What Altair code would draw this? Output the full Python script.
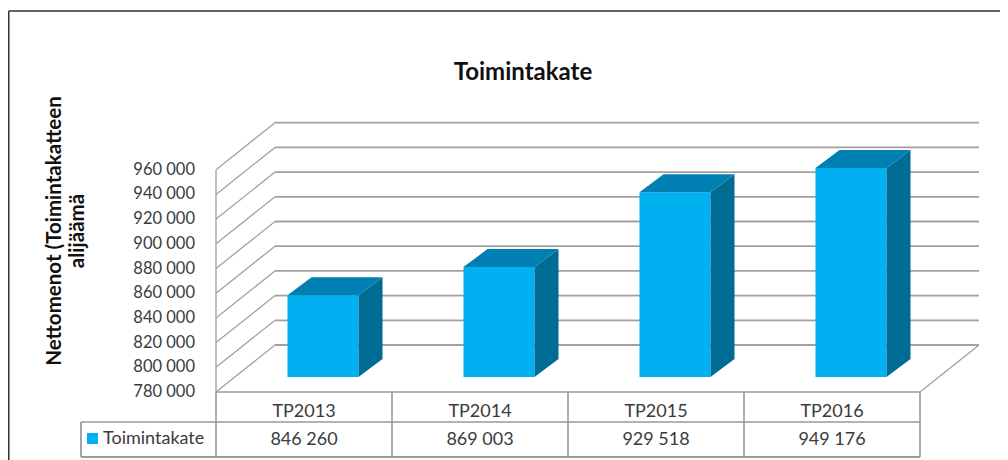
import altair as alt
import pandas as pd

# ---------------- data ----------------
categories = ["TP2013", "TP2014", "TP2015", "TP2016"]
values = [846260, 869003, 929518, 949176]
value_labels = ["846 260", "869 003", "929 518", "949 176"]
tick_values = [780000, 800000, 820000, 840000, 860000, 880000, 900000, 920000, 940000, 960000]
tick_labels = ["780 000", "800 000", "820 000", "840 000", "860 000",
               "880 000", "900 000", "920 000", "940 000", "960 000"]
series_name = "Toimintakate"
chart_title = "Toimintakate"
y_title_lines = ["Nettomenot (Toimintakatteen", "alijäämä"]

# ---------------- layout / style ----------------
W, H = 992, 360
PAD_TOP = 92
PX_PER_CAT = 176.0
X0_PX = 208.0            # plot-x of the category origin
Y0_PX = 292.0            # plot-y of the value-axis floor
PX_PER_VAL = 24.7 / 20000.0
BASE = tick_values[0]

def ux(px):
    return px / PX_PER_CAT

def uy(px):
    return px / PX_PER_VAL

x_scale = alt.Scale(domain=[-X0_PX / PX_PER_CAT, (W - X0_PX) / PX_PER_CAT], nice=False, zero=False)
y_scale = alt.Scale(domain=[BASE - (H - Y0_PX) / PX_PER_VAL, BASE + Y0_PX / PX_PER_VAL], nice=False, zero=False)

DX, DY = ux(59), uy(47)          # depth of the 3D box
BX, BY = ux(19), uy(15)          # bar front-face offset into depth
BW = ux(71)                      # bar width
DDX, DDY = ux(24), uy(18)        # bar depth

FRONT = "#00B0F0"
TOP = "#0080B2"
SIDE = "#006C94"
GRID = "#a0a0a0"
TXT = "#3b3b3b"
FONT = "Lato"

def X(f):
    return alt.X(f, type="quantitative", scale=x_scale, axis=None)

def Y(f):
    return alt.Y(f, type="quantitative", scale=y_scale, axis=None)

n = len(categories)
ticks = pd.DataFrame({"v": tick_values, "label": tick_labels})
ticks["yb"] = ticks["v"] + DY
ticks["xb"] = DX
ticks["xe"] = n + DX
ticks["x0"] = 0.0

bars = pd.DataFrame({"cat": categories, "value": values, "label": value_labels})
bars["i"] = range(n)
bars["xc"] = bars["i"] + 0.5
bars["xl"] = bars["xc"] + BX - BW / 2
bars["xr"] = bars["xl"] + BW
bars["yb"] = BASE + BY
bars["yt"] = bars["value"] + BY

side_rows, top_rows = [], []
for r in bars.to_dict("records"):
    side_rows.append({"cat": r["cat"], "x": r["xr"], "yt": r["yt"], "yb": r["yb"]})
    side_rows.append({"cat": r["cat"], "x": r["xr"] + DDX, "yt": r["yt"] + DDY, "yb": r["yb"] + DDY})
    top_rows.append({"cat": r["cat"], "y": r["yt"], "xa": r["xl"], "xb": r["xr"]})
    top_rows.append({"cat": r["cat"], "y": r["yt"] + DDY, "xa": r["xl"] + DDX, "xb": r["xr"] + DDX})
side = pd.DataFrame(side_rows)
top = pd.DataFrame(top_rows)

walls = pd.DataFrame({"x": [0.0], "y": [BASE], "y2": [tick_values[-1]],
                      "xr": [float(n)], "xr2": [n + DX], "yr2": [BASE + DY]})
bounds = pd.DataFrame({"b": list(range(n + 1))})
one = pd.DataFrame({"a": [0]})

# ---------------- layers ----------------
frame_top = alt.Chart(one).mark_rule(color="#333333", strokeWidth=1.5).encode(
    x=alt.value(0.75), x2=alt.value(W), y=alt.value(-89))
frame_left = alt.Chart(one).mark_rule(color="#333333", strokeWidth=1.5).encode(
    x=alt.value(0.75), y=alt.value(-89), y2=alt.value(H))

title_txt = alt.Chart(one).mark_text(align="center", baseline="middle", font=FONT,
                                     fontSize=24, fontWeight="bold", color="#111111",
                                     text=chart_title).encode(
    x=alt.value(515), y=alt.value(-27))

back_grid = alt.Chart(ticks).mark_rule(color=GRID, strokeWidth=1.8).encode(
    x=X("xb"), x2="xe", y=Y("yb"))
diag = alt.Chart(ticks).mark_rule(color=GRID, strokeWidth=1.3).encode(
    x=X("x0"), x2="xb", y=Y("v"), y2="yb")
front_left = alt.Chart(walls).mark_rule(color=GRID, strokeWidth=1.3).encode(
    x=X("x"), y=Y("y"), y2="y2")
floor_right = alt.Chart(walls).mark_rule(color=GRID, strokeWidth=1.3).encode(
    x=X("xr"), x2="xr2", y=Y("y"), y2="yr2")

bar_front = alt.Chart(bars).mark_rect(color=FRONT).encode(
    x=X("xl"), x2="xr", y=Y("yb"), y2="yt")
bar_side = alt.Chart(side).mark_area(color=SIDE, orient="vertical").encode(
    x=X("x"), y=Y("yt"), y2="yb", detail="cat:N")
bar_top = alt.Chart(top).mark_area(color=TOP, orient="horizontal").encode(
    y=Y("y"), x=X("xa"), x2="xb", detail="cat:N")

tick_text = alt.Chart(ticks).mark_text(align="right", baseline="middle", dx=-21,
                                       font=FONT, fontSize=16.5, color=TXT).encode(
    x=X("x0"), y=Y("v"), text="label:N")

ytitle1 = alt.Chart(one).mark_text(angle=270, align="center", baseline="middle",
                                   font=FONT, fontSize=20.5, fontWeight="bold",
                                   color="#111111", text=y_title_lines[0]).encode(
    x=alt.value(47), y=alt.value(131))
ytitle2 = alt.Chart(one).mark_text(angle=270, align="center", baseline="middle",
                                   font=FONT, fontSize=20.5, fontWeight="bold",
                                   color="#111111", text=y_title_lines[1]).encode(
    x=alt.value(70), y=alt.value(131))

# data table
TBL_TOP, TBL_MID, TBL_BOT = Y0_PX, Y0_PX + 30, Y0_PX + 65
TBL_L, TBL_R, LEG_L = X0_PX, X0_PX + n * PX_PER_CAT, 73
TBL = "#9a9a9a"
t_line1 = alt.Chart(one).mark_rule(color=TBL, strokeWidth=1.6).encode(
    x=alt.value(TBL_L), x2=alt.value(TBL_R), y=alt.value(TBL_TOP))
t_line2 = alt.Chart(one).mark_rule(color=TBL, strokeWidth=1.6).encode(
    x=alt.value(LEG_L), x2=alt.value(TBL_R), y=alt.value(TBL_MID))
t_line3 = alt.Chart(one).mark_rule(color=TBL, strokeWidth=1.8).encode(
    x=alt.value(LEG_L), x2=alt.value(TBL_R), y=alt.value(TBL_BOT))
t_leg_left = alt.Chart(one).mark_rule(color=TBL, strokeWidth=1.8).encode(
    x=alt.value(LEG_L), y=alt.value(TBL_MID), y2=alt.value(TBL_BOT))
t_vert = alt.Chart(bounds).mark_rule(color=TBL, strokeWidth=1.6).encode(
    x=X("b"), y=alt.value(TBL_TOP), y2=alt.value(TBL_BOT))

hdr = alt.Chart(bars).mark_text(baseline="middle", font=FONT, fontSize=18, color=TXT).encode(
    x=X("xc"), y=alt.value(TBL_TOP + 20), text="cat:N")
vals = alt.Chart(bars).mark_text(baseline="middle", font=FONT, fontSize=18, color=TXT).encode(
    x=X("xc"), y=alt.value(TBL_MID + 17.5), text="label:N")

leg_sq = alt.Chart(one).mark_rect(color=FRONT).encode(
    x=alt.value(79), x2=alt.value(90), y=alt.value(333), y2=alt.value(344))
leg_txt = alt.Chart(one).mark_text(align="left", baseline="middle", font=FONT, fontSize=18,
                                   color=TXT, text=series_name).encode(
    x=alt.value(95), y=alt.value(339))

chart = alt.layer(
    frame_top, frame_left, title_txt,
    back_grid, diag, front_left, floor_right,
    bar_front, bar_side, bar_top,
    tick_text, ytitle1, ytitle2,
    t_line1, t_line2, t_line3, t_leg_left, t_vert,
    hdr, vals, leg_sq, leg_txt,
).properties(
    width=W, height=H,
    autosize=alt.AutoSizeParams(type="none"),
    padding={"left": 0, "top": PAD_TOP, "right": 0, "bottom": 0},
).configure(background="white").configure_view(stroke=None)

chart.save("out.html", embed_options={"renderer": "svg", "actions": False})
